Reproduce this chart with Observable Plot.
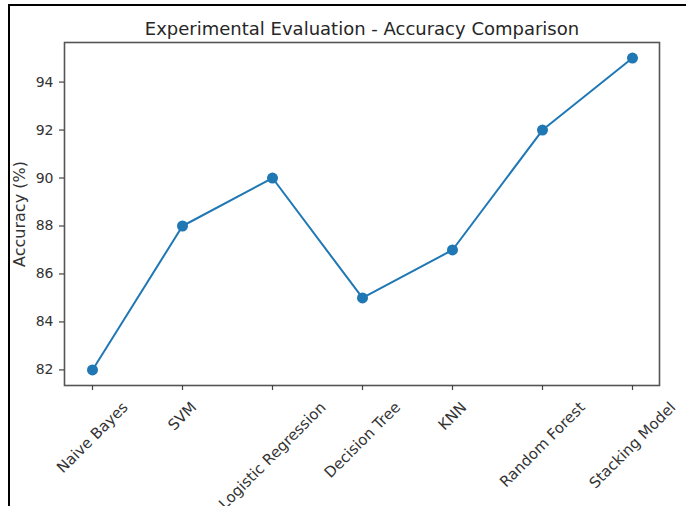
<!DOCTYPE html>
<html>
<head>
<meta charset="utf-8">
<script src="https://cdn.jsdelivr.net/npm/d3@7"></script>
<script src="https://cdn.jsdelivr.net/npm/@observablehq/plot@0.6"></script>
<style>
  html, body { margin: 0; padding: 0; background: #fff; }
  #wrap { position: relative; width: 686px; height: 506px; overflow: hidden; }
  #border { position: absolute; left: 8px; top: 4px; right: -4px; bottom: -4px;
            border-top: 2px solid #000; border-left: 2px solid #000; pointer-events: none; }
</style>
</head>
<body>
<div id="wrap"><div id="border"></div></div>
<script>
const models = ["Naive Bayes", "SVM", "Logistic Regression", "Decision Tree", "KNN", "Random Forest", "Stacking Model"];
const accuracy = [82, 88, 90, 85, 87, 92, 95];
const yTicks = [82, 84, 86, 88, 90, 92, 94];
const titleText = "Experimental Evaluation - Accuracy Comparison";
const yLabel = "Accuracy (%)";

const data = models.map((m, i) => ({model: m, acc: accuracy[i]}));

const font = "DejaVu Sans, sans-serif";
const xTickFont = 15;
const ctx = document.createElement("canvas").getContext("2d");
ctx.font = `${xTickFont}px DejaVu Sans`;

// rotated x tick labels, centered horizontally on the tick (matplotlib style)
const xLabelMarks = models.map(m => {
  const w = ctx.measureText(m).width;
  const h = xTickFont;
  const half = (w + h) * Math.SQRT1_2 / 2;
  return Plot.text([m], {
    x: d => d, frameAnchor: "bottom", text: d => d,
    rotate: -45, textAnchor: "middle", lineAnchor: "middle",
    dy: 14 + half, fontSize: xTickFont, fill: "#333", fontFamily: font
  });
});

const chart = Plot.plot({
  width: 686, height: 506,
  marginLeft: 64, marginRight: 27, marginTop: 42, marginBottom: 121,
  style: {fontFamily: font, background: "transparent", overflow: "visible"},
  x: {type: "point", domain: models, padding: 0.3, label: null},
  y: {domain: [81.35, 95.65], label: null},
  marks: [
    Plot.frame({stroke: "#555", strokeWidth: 1.6}),
    Plot.axisX({ticks: models, tickSize: 5, tickFormat: () => "", stroke: "#444", strokeWidth: 1.2, label: null}),
    ...xLabelMarks,
    Plot.axisY({ticks: yTicks, tickSize: 5, tickPadding: 6, fontSize: 14, fill: "#333", stroke: "#444", strokeWidth: 1.2, label: null}),
    Plot.text([yLabel], {text: d => d, frameAnchor: "left", textAnchor: "middle", dx: -45, rotate: -90, fontSize: 16, fill: "#333", fontFamily: font}),
    Plot.text([titleText], {text: d => d, frameAnchor: "top", textAnchor: "middle", dy: -20, fontSize: 18, fill: "#262626", fontFamily: font}),
    Plot.line(data, {x: "model", y: "acc", stroke: "#1f77b4", strokeWidth: 2}),
    Plot.dot(data, {x: "model", y: "acc", r: 5.5, fill: "#1f77b4", stroke: "none"})
  ]
});
document.getElementById("wrap").prepend(chart);
</script>
</body>
</html>
